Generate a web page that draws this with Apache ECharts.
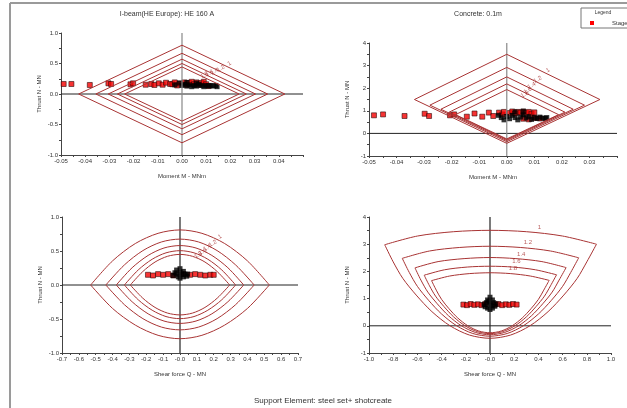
<!DOCTYPE html>
<html>
<head>
<meta charset="utf-8">
<script src="https://cdn.jsdelivr.net/npm/echarts@6/dist/echarts.min.js"></script>
<style>
  html, body { margin: 0; padding: 0; background: #fff; }
  #main { width: 627px; height: 408px; }
</style>
</head>
<body>
<div id="main"></div>
<script>
// factor-of-safety labels for the envelopes
const fsLabels = ['1', '1.2', '1.4', '1.6', '1.8'];

// plot 1: I-beam, moment vs thrust (diamonds)
const p1Env = [
  [[-0.0427, 0], [0, 0.80], [0.0425, 0], [0, -0.80], [-0.0427, 0]],
  [[-0.0356, 0], [0, 0.667], [0.0354, 0], [0, -0.667], [-0.0356, 0]],
  [[-0.0305, 0], [0, 0.571], [0.0304, 0], [0, -0.571], [-0.0305, 0]],
  [[-0.0267, 0], [0, 0.50], [0.0266, 0], [0, -0.50], [-0.0267, 0]],
  [[-0.0237, 0], [0, 0.444], [0.0236, 0], [0, -0.444], [-0.0237, 0]]
];
const p1LabelPos = [[0.0196, 0.50], [0.0160, 0.42], [0.0134, 0.37], [0.0113, 0.34], [0.0093, 0.31]];
const p1Red = [
  [-0.0489, 0.164], [-0.0457, 0.164], [-0.0381, 0.148], [-0.0304, 0.175], [-0.0293, 0.164],
  [-0.0213, 0.159], [-0.0202, 0.175], [-0.0150, 0.152], [-0.0127, 0.164], [-0.0114, 0.148],
  [-0.0096, 0.175], [-0.0080, 0.152], [-0.0066, 0.185], [-0.0049, 0.164],
  [-0.004, 0.16], [-0.003, 0.19], [-0.002, 0.14], [-0.001, 0.17], [0.001, 0.19], [0.002, 0.15],
  [0.003, 0.18], [0.004, 0.20], [0.005, 0.16], [0.006, 0.19], [0.007, 0.15], [0.008, 0.18],
  [0.009, 0.20], [0.010, 0.16], [0.011, 0.13]
];
const p1Black = [
  [0, 0.14], [0.001, 0.16], [0.002, 0.13], [0.003, 0.15], [0.004, 0.12], [0.005, 0.14],
  [0.006, 0.13], [0.007, 0.16], [0.008, 0.14], [0.009, 0.12], [0.010, 0.14], [0.011, 0.13],
  [0.012, 0.14], [0.013, 0.13], [0.014, 0.14], [0.0145, 0.12], [-0.001, 0.18], [-0.003, 0.15],
  [0.002, 0.19], [0.006, 0.18]
];

// plot 2: concrete, moment vs thrust (diamonds)
const p2Env = [
  [[-0.0335, 1.5], [0, 3.5], [0.0338, 1.5], [0, -0.44], [-0.0335, 1.5]],
  [[-0.0279, 1.25], [0, 2.92], [0.0282, 1.25], [0, -0.367], [-0.0279, 1.25]],
  [[-0.0239, 1.07], [0, 2.5], [0.0241, 1.07], [0, -0.314], [-0.0239, 1.07]],
  [[-0.0209, 0.94], [0, 2.19], [0.0211, 0.94], [0, -0.275], [-0.0209, 0.94]],
  [[-0.0186, 0.83], [0, 1.94], [0.0188, 0.83], [0, -0.244], [-0.0186, 0.83]]
];
const p2LabelPos = [[0.0149, 2.79], [0.0112, 2.39], [0.0090, 2.12], [0.0076, 1.90], [0.0065, 1.73]];
const p2Red = [
  [-0.0482, 0.80], [-0.0449, 0.84], [-0.0371, 0.77], [-0.0298, 0.87], [-0.0282, 0.77],
  [-0.0206, 0.80], [-0.0191, 0.84], [-0.0145, 0.74], [-0.0117, 0.88], [-0.0089, 0.74],
  [-0.0065, 0.92], [-0.0049, 0.77], [-0.0028, 0.92], [-0.0016, 0.84],
  [-0.001, 0.95], [0.001, 0.90], [0.002, 0.97], [0.003, 0.88], [0.004, 0.95], [0.005, 0.92],
  [0.006, 0.97], [0.007, 0.90], [0.008, 0.95], [0.009, 0.87], [0.010, 0.93], [0.006, 0.65],
  [0.008, 0.62], [0.010, 0.68], [0.012, 0.66]
];
const p2Black = [
  [-0.003, 0.80], [-0.002, 0.70], [-0.001, 0.60], [0, 0.75], [0.001, 0.65], [0.002, 0.80],
  [0.003, 0.70], [0.004, 0.60], [0.005, 0.72], [0.006, 0.82], [0.007, 0.68], [0.008, 0.74],
  [0.009, 0.62], [0.010, 0.70], [0.011, 0.66], [0.012, 0.72], [0.013, 0.68], [0.014, 0.66],
  [0.0145, 0.70], [0.003, 0.95], [0.006, 0.98]
];

// plot 3: I-beam, shear vs thrust (lens shapes, upper and lower arcs)
const p3Upper = [
  [[-0.53, 0], [-0.40, 0.355], [-0.265, 0.61], [-0.13, 0.76], [0, 0.81], [0.13, 0.76], [0.265, 0.61], [0.40, 0.355], [0.53, 0]],
  [[-0.44, 0], [-0.33, 0.295], [-0.22, 0.506], [-0.11, 0.633], [0, 0.675], [0.11, 0.633], [0.22, 0.506], [0.33, 0.295], [0.44, 0]],
  [[-0.378, 0], [-0.284, 0.254], [-0.189, 0.435], [-0.095, 0.544], [0, 0.58], [0.095, 0.544], [0.189, 0.435], [0.284, 0.254], [0.378, 0]],
  [[-0.33, 0], [-0.248, 0.221], [-0.165, 0.379], [-0.083, 0.473], [0, 0.505], [0.083, 0.473], [0.165, 0.379], [0.248, 0.221], [0.33, 0]],
  [[-0.295, 0], [-0.221, 0.197], [-0.148, 0.338], [-0.074, 0.422], [0, 0.45], [0.074, 0.422], [0.148, 0.338], [0.221, 0.197], [0.295, 0]]
];
const p3Lower = [
  [[-0.53, 0], [-0.40, -0.345], [-0.265, -0.59], [-0.13, -0.74], [0, -0.79], [0.13, -0.74], [0.265, -0.59], [0.40, -0.345], [0.53, 0]],
  [[-0.44, 0], [-0.33, -0.289], [-0.22, -0.495], [-0.11, -0.619], [0, -0.66], [0.11, -0.619], [0.22, -0.495], [0.33, -0.289], [0.44, 0]],
  [[-0.378, 0], [-0.284, -0.247], [-0.189, -0.424], [-0.095, -0.53], [0, -0.565], [0.095, -0.53], [0.189, -0.424], [0.284, -0.247], [0.378, 0]],
  [[-0.33, 0], [-0.248, -0.217], [-0.165, -0.371], [-0.083, -0.464], [0, -0.495], [0.083, -0.464], [0.165, -0.371], [0.248, -0.217], [0.33, 0]],
  [[-0.295, 0], [-0.221, -0.193], [-0.148, -0.33], [-0.074, -0.413], [0, -0.44], [0.074, -0.413], [0.148, -0.33], [0.221, -0.193], [0.295, 0]]
];
const p3LabelPos = [[0.237, 0.71], [0.194, 0.61], [0.162, 0.55], [0.134, 0.49], [0.108, 0.44]];
const p3Red = [
  [-0.19, 0.15], [-0.16, 0.14], [-0.13, 0.16], [-0.10, 0.15], [-0.07, 0.16], [-0.04, 0.14],
  [0.02, 0.16], [0.06, 0.15], [0.09, 0.16], [0.12, 0.15], [0.15, 0.14], [0.18, 0.15], [0.20, 0.15]
];
const p3Black = [
  [-0.04, 0.14], [-0.03, 0.18], [-0.02, 0.22], [0, 0.24], [0.02, 0.20], [0.03, 0.16], [0.04, 0.13],
  [0, 0.10], [-0.01, 0.12], [0.01, 0.16], [0, 0.18], [-0.02, 0.16], [0.02, 0.12], [0.045, 0.16]
];

// plot 4: concrete, shear vs thrust (top arc + lower bowl)
const p4Top = [
  [[-0.87, 2.98], [-0.6, 3.3], [-0.3, 3.46], [0, 3.51], [0.3, 3.46], [0.6, 3.3], [0.88, 3.0]],
  [[-0.725, 2.48], [-0.5, 2.75], [-0.25, 2.88], [0, 2.925], [0.25, 2.88], [0.5, 2.75], [0.733, 2.5]],
  [[-0.62, 2.13], [-0.429, 2.36], [-0.214, 2.47], [0, 2.51], [0.214, 2.47], [0.429, 2.36], [0.629, 2.14]],
  [[-0.544, 1.86], [-0.375, 2.06], [-0.188, 2.16], [0, 2.19], [0.188, 2.16], [0.375, 2.06], [0.55, 1.875]],
  [[-0.483, 1.66], [-0.333, 1.83], [-0.167, 1.92], [0, 1.95], [0.167, 1.92], [0.333, 1.83], [0.489, 1.67]]
];
const p4Bowl = [
  [[-0.87, 2.98], [-0.8, 2.35], [-0.72, 1.74], [-0.61, 1.13], [-0.48, 0.52], [-0.33, 0], [-0.17, -0.34], [0, -0.46],
   [0.17, -0.34], [0.33, 0], [0.48, 0.52], [0.61, 1.13], [0.72, 1.74], [0.8, 2.35], [0.88, 3.0]],
  [[-0.725, 2.48], [-0.667, 1.96], [-0.6, 1.45], [-0.508, 0.94], [-0.4, 0.433], [-0.275, 0], [-0.142, -0.283], [0, -0.383],
   [0.142, -0.283], [0.275, 0], [0.4, 0.433], [0.508, 0.94], [0.6, 1.45], [0.667, 1.96], [0.733, 2.5]],
  [[-0.62, 2.13], [-0.571, 1.68], [-0.514, 1.24], [-0.436, 0.81], [-0.343, 0.37], [-0.236, 0], [-0.121, -0.243], [0, -0.329],
   [0.121, -0.243], [0.236, 0], [0.343, 0.37], [0.436, 0.81], [0.514, 1.24], [0.571, 1.68], [0.629, 2.14]],
  [[-0.544, 1.86], [-0.5, 1.47], [-0.45, 1.09], [-0.381, 0.71], [-0.3, 0.325], [-0.206, 0], [-0.106, -0.213], [0, -0.288],
   [0.106, -0.213], [0.206, 0], [0.3, 0.325], [0.381, 0.71], [0.45, 1.09], [0.5, 1.47], [0.55, 1.875]],
  [[-0.483, 1.66], [-0.444, 1.31], [-0.4, 0.97], [-0.339, 0.63], [-0.267, 0.29], [-0.183, 0], [-0.094, -0.19], [0, -0.256],
   [0.094, -0.19], [0.183, 0], [0.267, 0.29], [0.339, 0.63], [0.4, 0.97], [0.444, 1.31], [0.489, 1.67]]
];
const p4LabelPos = [[0.408, 3.61], [0.313, 3.05], [0.258, 2.62], [0.218, 2.38], [0.19, 2.13]];
const p4Red = [
  [-0.22, 0.78], [-0.19, 0.76], [-0.16, 0.80], [-0.13, 0.77], [-0.10, 0.79], [-0.07, 0.76], [-0.04, 0.80],
  [0.04, 0.78], [0.07, 0.80], [0.10, 0.76], [0.13, 0.79], [0.16, 0.77], [0.19, 0.80], [0.22, 0.78]
];
const p4Black = [
  [-0.04, 0.70], [-0.03, 0.85], [-0.02, 0.95], [0, 1.05], [0.02, 0.95], [0.03, 0.85], [0.04, 0.72],
  [0, 0.60], [-0.02, 0.65], [0.02, 0.65], [0, 0.80], [-0.05, 0.78], [0.05, 0.80], [-0.01, 0.90], [0.01, 0.75]
];

const curveColor = '#a83333';
const axisColor = '#444';
const textColor = '#333';

const chart = echarts.init(document.getElementById('main'));

function fixed(d, hideAt) {
  return function (v) {
    if (hideAt !== undefined && Math.abs(v - hideAt) < 1e-9) return '';
    return v.toFixed(d);
  };
}
function negZero(v) {
  return Math.abs(v) < 1e-9 ? '-0.0' : v.toFixed(1);
}

function axis(idx, min, max, interval, name, fmt, isY) {
  return {
    type: 'value', gridIndex: idx, min: min, max: max, interval: interval,
    name: name, nameLocation: 'middle', nameGap: isY ? 19 : 18,
    nameTextStyle: { fontSize: 6, color: textColor },
    axisLine: { onZero: false, lineStyle: { color: axisColor } },
    axisTick: { length: 2, lineStyle: { color: axisColor } },
    minorTick: { show: true, splitNumber: 2, length: 2, lineStyle: { color: axisColor } },
    splitLine: { show: false },
    minorSplitLine: { show: false },
    axisLabel: { fontSize: 6, color: textColor, margin: 3, formatter: fmt }
  };
}

const series = [];

// zero cross lines
function cross(idx, xr, yr, vColor) {
  series.push({ type: 'line', xAxisIndex: idx, yAxisIndex: idx, data: [[xr[0], 0], [xr[1], 0]],
    showSymbol: false, silent: true, lineStyle: { color: '#222', width: 1 } });
  series.push({ type: 'line', xAxisIndex: idx, yAxisIndex: idx, data: [[0, yr[0]], [0, yr[1]]],
    showSymbol: false, silent: true, lineStyle: { color: vColor, width: 1.2 } });
}
cross(0, [-0.05, 0.05], [-1, 1], '#888');
cross(1, [-0.05, 0.04], [-1, 4], '#888');
cross(2, [-0.7, 0.7], [-1, 1], '#222');
cross(3, [-1, 1], [-1, 4], '#222');

function curves(idx, list, smooth) {
  list.forEach(function (pts) {
    series.push({ type: 'line', xAxisIndex: idx, yAxisIndex: idx, data: pts, showSymbol: false,
      smooth: smooth, silent: true, lineStyle: { color: curveColor, width: 1 } });
  });
}
curves(0, p1Env, false);
curves(1, p2Env, false);
curves(2, p3Upper, 0.3);
curves(2, p3Lower, 0.3);
curves(3, p4Top, 0.3);
curves(3, p4Bowl, 0.3);

function labels(idx, pos, rot) {
  series.push({
    type: 'scatter', xAxisIndex: idx, yAxisIndex: idx, symbolSize: 1, silent: true,
    itemStyle: { color: 'rgba(0,0,0,0)' },
    data: pos.map(function (p, i) { return { value: p, name: fsLabels[i] }; }),
    label: { show: true, position: 'inside', formatter: '{b}', fontSize: 6, color: curveColor, rotate: rot }
  });
}
labels(0, p1LabelPos, 30);
labels(1, p2LabelPos, 30);
labels(2, p3LabelPos, 30);
labels(3, p4LabelPos, 0);

function points(idx, red, black) {
  series.push({ type: 'scatter', name: 'Stage', xAxisIndex: idx, yAxisIndex: idx, data: red, symbol: 'rect',
    symbolSize: 5, itemStyle: { color: '#f50000', borderColor: '#200', borderWidth: 0.7 } });
  series.push({ type: 'scatter', xAxisIndex: idx, yAxisIndex: idx, data: black, symbol: 'rect',
    symbolSize: 5, itemStyle: { color: '#000' } });
}
points(0, p1Red, p1Black);
points(1, p2Red, p2Black);
points(2, p3Red, p3Black);
points(3, p4Red, p4Black);

chart.setOption({
  animation: false,
  grid: [
    { left: 61, top: 33, width: 242, height: 122 },
    { left: 369, top: 43, width: 248, height: 113 },
    { left: 62, top: 217, width: 236, height: 136 },
    { left: 369, top: 217, width: 242, height: 136 }
  ],
  xAxis: [
    axis(0, -0.05, 0.05, 0.01, 'Moment M - MNm', fixed(2, 0.05), false),
    axis(1, -0.05, 0.04, 0.01, 'Moment M - MNm', fixed(2, 0.04), false),
    axis(2, -0.7, 0.7, 0.1, 'Shear force Q - MN', negZero, false),
    axis(3, -1, 1, 0.2, 'Shear force Q - MN', negZero, false)
  ],
  yAxis: [
    axis(0, -1, 1, 0.5, 'Thrust N - MN', fixed(1), true),
    axis(1, -1, 4, 1, 'Thrust N - MN', fixed(0), true),
    axis(2, -1, 1, 0.5, 'Thrust N - MN', fixed(1), true),
    axis(3, -1, 4, 1, 'Thrust N - MN', fixed(0), true)
  ],
  series: series,
  graphic: [
    { type: 'line', shape: { x1: 10, y1: 3, x2: 627, y2: 3 }, style: { stroke: '#9a9a9a', lineWidth: 2 } },
    { type: 'line', shape: { x1: 10, y1: 3, x2: 10, y2: 408 }, style: { stroke: '#9a9a9a', lineWidth: 2 } },
    { type: 'text', x: 167, y: 14, style: { text: 'I-beam(HE Europe): HE 160 A', fontSize: 7, fill: textColor, textAlign: 'center', textVerticalAlign: 'middle' } },
    { type: 'text', x: 478, y: 14, style: { text: 'Concrete: 0.1m', fontSize: 7, fill: textColor, textAlign: 'center', textVerticalAlign: 'middle' } },
    { type: 'text', x: 323, y: 401, style: { text: 'Support Element: steel set+ shotcreate', fontSize: 8, fill: textColor, textAlign: 'center', textVerticalAlign: 'middle' } },
    { type: 'rect', shape: { x: 581, y: 8, width: 60, height: 20 }, style: { fill: '#fff', stroke: '#777', lineWidth: 1 } },
    { type: 'text', x: 603, y: 13, style: { text: 'Legend', fontSize: 5, fill: textColor, textAlign: 'center', textVerticalAlign: 'middle' } },
    { type: 'rect', shape: { x: 590, y: 21, width: 4, height: 4 }, style: { fill: '#ff0000' } },
    { type: 'text', x: 612, y: 23, style: { text: 'Stage', fontSize: 6, fill: textColor, textAlign: 'left', textVerticalAlign: 'middle' } }
  ]
});
</script>
</body>
</html>
